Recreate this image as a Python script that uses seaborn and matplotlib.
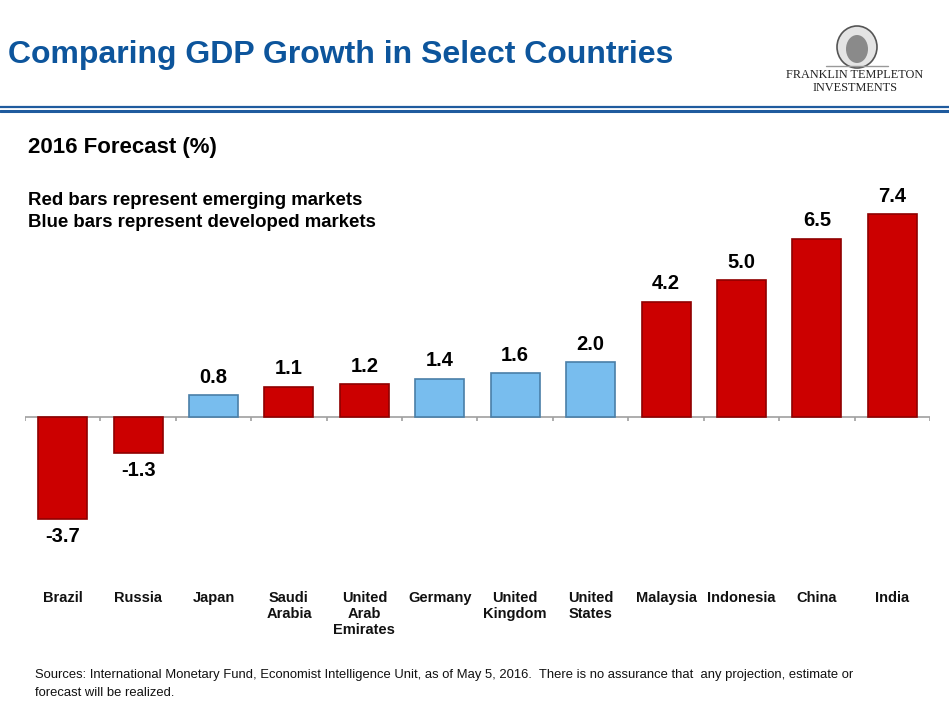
import numpy as np
import pandas as pd
import matplotlib
matplotlib.use("Agg")
import matplotlib.pyplot as plt
from matplotlib.patches import Ellipse
import seaborn as sns

countries = ["Brazil", "Russia", "Japan", "Saudi\nArabia", "United\nArab\nEmirates",
             "Germany", "United\nKingdom", "United\nStates", "Malaysia", "Indonesia",
             "China", "India"]
growth = [-3.7, -1.3, 0.8, 1.1, 1.2, 1.4, 1.6, 2.0, 4.2, 5.0, 6.5, 7.4]
market = ["Emerging", "Emerging", "Developed", "Emerging", "Emerging", "Developed",
          "Developed", "Developed", "Emerging", "Emerging", "Emerging", "Emerging"]

df = pd.DataFrame({"country": countries, "growth": growth, "market": market})

sns.set_theme(style="white")
plt.rcParams["font.family"] = ["Liberation Sans", "DejaVu Sans"]

W, H = 949, 708
fig = plt.figure(figsize=(W / 100, H / 100), dpi=100)
fig.patch.set_facecolor("white")

# axes geometry in pixels
ax_left, ax_right = 25, 930
ax_top, ax_bot = 200, 585
zero_y = 417
ppu = 203 / 7.4
ax = fig.add_axes([ax_left / W, 1 - ax_bot / H, (ax_right - ax_left) / W, (ax_bot - ax_top) / H])

palette = {"Emerging": "#cc0000", "Developed": "#78bdee"}
sns.barplot(data=df, x="country", y="growth", hue="market", palette=palette,
            dodge=False, width=0.65, ax=ax, legend=False, saturation=1)

for cont in ax.containers:
    for bar in cont:
        c = bar.get_facecolor()
        bar.set_edgecolor("#8f0000" if c[0] > 0.7 and c[2] < 0.3 else "#4a7fa8")
        bar.set_linewidth(1.2)
    ax.bar_label(cont, fmt="%.1f", padding=6, fontsize=14.5, fontweight="bold", color="black")

ax.set_xlim(-0.5, len(countries) - 0.5)
ax.set_ylim(-(ax_bot - zero_y) / ppu, (zero_y - ax_top) / ppu)
ax.axhline(0, color="#a0a0a0", lw=1.2, zorder=0.5)
ax.vlines(np.arange(-0.5, len(countries), 1.0), 0, -4 / ppu, color="#a0a0a0", lw=1.2)
for s in ax.spines.values():
    s.set_visible(False)
ax.set_yticks([])
ax.set_xlabel("")
ax.set_ylabel("")
ax.tick_params(axis="x", length=0, pad=4)
for lab in ax.get_xticklabels():
    lab.set_fontsize(10.5)
    lab.set_fontweight("bold")
    lab.set_linespacing(1.2)
    lab.set_color("#111111")
    lab.set_verticalalignment("top")

def fx(px):
    return px / W

def fy(py):
    return 1 - py / H

fig.text(fx(8), fy(55), "Comparing GDP Growth in Select Countries", fontsize=23,
         fontweight="bold", color="#0d559c", va="center", ha="left")

# logo (simplified)
fig.add_artist(Ellipse((fx(857), fy(47)), 40 / W, 42 / H, transform=fig.transFigure,
                       facecolor="#e4e4e4", edgecolor="#555555", lw=1.2))
fig.add_artist(Ellipse((fx(857), fy(49)), 22 / W, 28 / H, transform=fig.transFigure,
                       facecolor="#8a8a8a", edgecolor="none"))
fig.add_artist(plt.Line2D([fx(826), fx(888)], [fy(66), fy(66)], color="#999999", lw=1.0))
fig.text(fx(855), fy(75), "FRANKLIN TEMPLETON", fontsize=8.8, family=["Liberation Serif", "DejaVu Serif"],
         color="#222222", va="center", ha="center")
fig.text(fx(855), fy(88), "INVESTMENTS", fontsize=8.8, family=["Liberation Serif", "DejaVu Serif"],
         color="#222222", va="center", ha="center")

# header rule lines
fig.add_artist(plt.Line2D([0, 1], [fy(107), fy(107)], color="#1f5b9e", lw=1.6))
fig.add_artist(plt.Line2D([0, 1], [fy(111), fy(111)], color="#1f5b9e", lw=2.2))

fig.text(fx(28), fy(147), "2016 Forecast (%)", fontsize=16, fontweight="bold",
         color="black", va="center", ha="left")
fig.text(fx(28), fy(200), "Red bars represent emerging markets", fontsize=13.4, fontweight="bold",
         color="black", va="center", ha="left")
fig.text(fx(28), fy(222), "Blue bars represent developed markets", fontsize=13.4, fontweight="bold",
         color="black", va="center", ha="left")

foot_fam = ["Liberation Sans Narrow", "Liberation Sans", "DejaVu Sans"]
fig.text(fx(35), fy(675), "Sources: International Monetary Fund, Economist Intelligence Unit, as of May 5, 2016.  There is no assurance that  any projection, estimate or",
         fontsize=9.35, family=foot_fam, color="#111111", va="center", ha="left")
fig.text(fx(35), fy(693), "forecast will be realized.",
         fontsize=9.35, family=foot_fam, color="#111111", va="center", ha="left")

fig.savefig("out.png", dpi=100, facecolor="white")
